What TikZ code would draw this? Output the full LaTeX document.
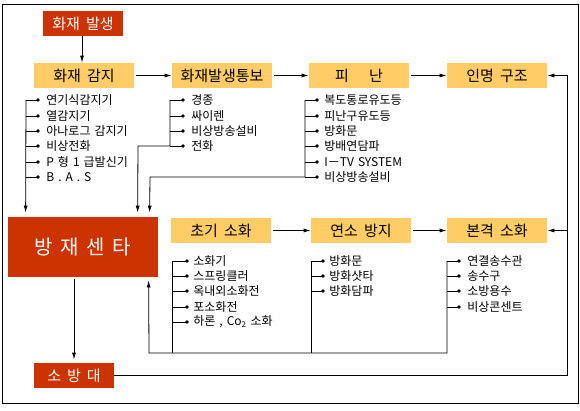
\documentclass[tikz,border=0pt]{standalone}
\usepackage{fontspec}
\setmainfont{Noto Sans CJK KR}
\usepackage{xcolor}
\usetikzlibrary{arrows.meta,positioning,calc}

\definecolor{fireRed}{HTML}{CC3300}
\definecolor{stageYellow}{HTML}{FFCC66}

\begin{document}
\begin{tikzpicture}[x=1pt,y=-1pt,line width=0.8pt,
    redbox/.style={fill=fireRed,text=white,minimum width=80pt,minimum height=25pt,inner sep=0pt,font={\fontsize{15}{18}\selectfont\spaceskip=6pt\relax}},
    stage/.style={fill=stageYellow,minimum width=100pt,minimum height=25pt,inner sep=0pt,font={\fontsize{15}{18}\selectfont\spaceskip=6pt\relax}},
    item/.style={anchor=west,inner sep=0pt,font={\fontsize{12}{14}\selectfont\spaceskip=4pt\relax}},
    flow/.style={-{Latex[length=7pt,width=4pt]}},
    dot/.style={circle,fill,inner sep=0pt,minimum size=3.6pt}]
    \useasboundingbox (0,0) rectangle (580,410);

    % Frame
    \draw (2,4) rectangle (578,403);

    % Stages
    \node[redbox] (fire) at (83,23.5) {화재 발생};
    \node[stage] (detect) at (84,75.5) {화재 감지};
    \node[stage] (notify) at (222,75.5) {화재발생통보};
    \node[stage] (evac) at (359,75.5) {피\hspace{20pt}난};
    \node[stage] (rescue) at (497,75.5) {인명 구조};
    \node[redbox,minimum width=150pt,minimum height=60pt,font={\fontsize{20}{24}\selectfont\spaceskip=7.5pt\relax}] (center) at (83,247) {방 재 센 타};
    \node[stage] (early) at (221,230.5) {초기 소화};
    \node[stage] (spread) at (361,230.5) {연소 방지};
    \node[stage] (full) at (497,230.5) {본격 소화};
    \node[redbox] (brigade) at (74,375.5) {소 방 대};

    % Main flow
    \draw[flow] (fire.south -| {(82,0)}) -- (detect.north -| {(82,0)});
    \draw[flow,shorten <=2pt] (detect) -- (notify);
    \draw[flow,shorten <=2pt] (notify) -- (evac);
    \draw[flow,shorten <=2pt] (evac) -- (rescue);
    \draw[flow,shorten <=2pt] (early) -- (spread);
    \draw[flow,shorten <=2pt] (spread) -- (full);
    \draw[flow,shorten <=2pt,shorten >=3pt] (brigade.north |- center.south) -- (brigade.north);

    % Fire brigade loop
    \coordinate (loop) at (567,375.5);
    \draw[flow] (brigade.east) -- (loop) |- (rescue.east);
    \draw[flow] (full.east -| loop) -- (full.east);

    % Detection devices
    \foreach \y/\label in {100/연기식감지기,116/열감지기,131/아나로그 감지기,146/비상전화,162/P 형 1 급발신기,177/B . A . S} {
        \node[item] (det\y) at (46,\y) {\label};
        \draw (26,\y) -- (38,\y) node[dot] {};
    }
    \draw[flow,shorten >=4pt] (26,100) -- ([xshift=18pt]center.north west);

    % Alarm devices
    \foreach \y/\label in {100/경종,116/싸이렌,131/비상방송설비,146/전화} {
        \node[item] (ntf\y) at (191,\y) {\label};
        \draw (170,\y) -- (183,\y) node[dot] {};
    }
    \draw[flow,shorten >=4pt] (170,100) |- (138,146) -- ([xshift=130pt]center.north west);

    % Evacuation devices
    \foreach \y/\label in {100/복도통로유도등,116/피난구유도등,131/방화문,146/방배연담파,162/I－TV SYSTEM,177/비상방송설비} {
        \node[item] (evc\y) at (324,\y) {\label};
        \draw (305,\y) -- (317,\y) node[dot] {};
    }
    \draw[flow,shorten >=4pt] (305,100) |- (150,177) -- ([xshift=142pt]center.north west);

    % Extinguishing devices
    \foreach \y/\label in {261/소화기,276/스프링클러,291/옥내외소화전,307/포소화전,322/{하론 , Co\textsubscript{2} 소화}} {
        \node[item] (ext\y) at (193,\y) {\label};
        \draw (172,\y) -- (187,\y) node[dot] {};
    }
    \foreach \y/\label in {261/방화문,276/방화샷타,291/방화담파} {
        \node[item] (spr\y) at (329,\y) {\label};
        \draw (311,\y) -- (323,\y) node[dot] {};
    }
    \foreach \y/\label in {261/연결송수관,276/송수구,291/소방용수,307/비상콘센트} {
        \node[item] (ful\y) at (467,\y) {\label};
        \draw (447,\y) -- (459,\y) node[dot] {};
    }
    \draw (172,261) -- (172,353);
    \draw (311,261) -- (311,353);
    \draw[flow,shorten >=3pt] (447,261) |- (149,353) -- ([xshift=141pt]center.south west);
\end{tikzpicture}
\end{document}
